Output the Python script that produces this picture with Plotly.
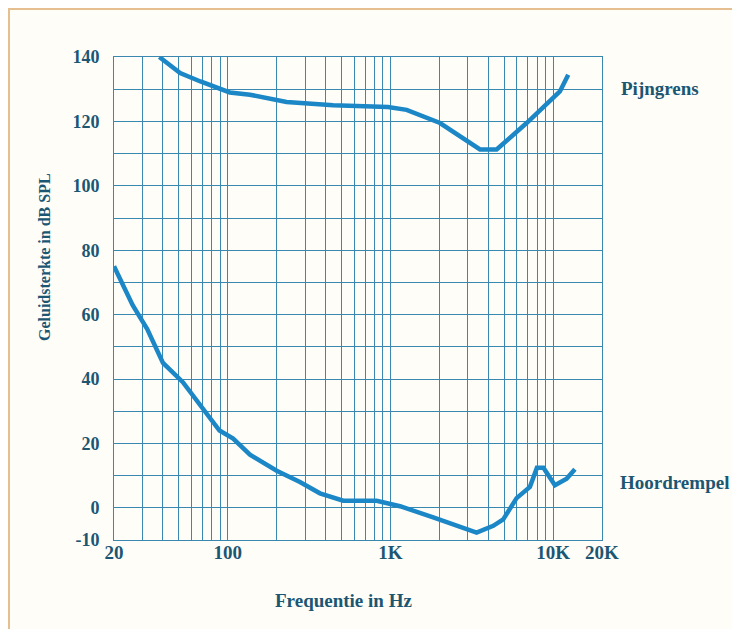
import plotly.graph_objects as go

# Data
pain_freq = [38, 51, 68, 103, 137, 230, 445, 966, 1259, 2018, 3556, 4500, 6880, 11020, 12400]
pain_db = [140, 135, 132.4, 129, 128.3, 126, 125, 124.5, 123.6, 119.5, 111.3, 111.3, 119.5, 129.3, 134.5]

hoor_freq = [20, 26, 32, 38, 40, 53, 74, 89, 108, 137, 200, 278, 369, 513, 824, 1146, 1834,
             3390, 4290, 4940, 5970, 7210, 7960, 8730, 10270, 12120, 13630]
hoor_db = [75, 63, 55.5, 47.5, 45, 39, 29, 24, 21.5, 16.5, 11.5, 8, 4.5, 2.2, 2.2, 0.5, -3,
           -7.7, -5.6, -3.6, 3, 6.5, 12.4, 12.4, 7, 9, 12]

x_grid = [20, 30, 40, 50, 60, 70, 80, 90, 100, 200, 300, 400, 500, 600, 700, 800, 900,
          1000, 2000, 3000, 4000, 5000, 6000, 7000, 8000, 9000, 10000, 20000]
x_labels = {20: "20", 100: "100", 1000: "1K", 10000: "10K", 20000: "20K"}
y_grid = list(range(-10, 141, 10))
y_labels = {-10: "-10", 0: "0", 20: "20", 40: "40", 60: "60", 80: "80", 100: "100", 120: "120", 140: "140"}

TEXT = "#1b5673"
GRID = "#3a88b0"
LINE = "#1c87c6"
FONT = "Liberation Serif"

def bold(s):
    return "<b>" + s + "</b>" if s else ""

fig = go.Figure()
fig.add_trace(go.Scatter(x=pain_freq, y=pain_db, mode="lines",
                         line=dict(color=LINE, width=4.5), name="Pijngrens", showlegend=False))
fig.add_trace(go.Scatter(x=hoor_freq, y=hoor_db, mode="lines",
                         line=dict(color=LINE, width=4.5), name="Hoordrempel", showlegend=False))

fig.update_xaxes(type="log", range=[1.30103, 4.30103],
                 tickvals=x_grid, ticktext=[bold(x_labels.get(v, "")) for v in x_grid],
                 showgrid=True, gridcolor=GRID, gridwidth=1,
                 showline=True, linecolor=GRID, linewidth=1, mirror=True,
                 zeroline=False, ticks="", ticklabelstandoff=-5,
                 tickfont=dict(family=FONT, size=19, color=TEXT))
fig.update_yaxes(range=[-10, 140],
                 tickvals=y_grid, ticktext=[bold(y_labels.get(v, "")) for v in y_grid],
                 showgrid=True, gridcolor=GRID, gridwidth=1,
                 showline=True, linecolor=GRID, linewidth=1, mirror=True,
                 zeroline=False, ticks="outside", ticklen=10, tickcolor="rgba(0,0,0,0)",
                 tickfont=dict(family=FONT, size=18, color=TEXT))

# page is offset 8px by the body margin
OFF = 8
W, H = 740 - OFF, 629 - OFF
L, R, T, B = 114 - OFF, 138, 57 - OFF, 89
pw, ph = W - L - R, H - T - B

def px(x):
    return (x - OFF - L) / pw

def py(y):
    return (H - B - (y - OFF)) / ph

fig.add_shape(type="rect", xref="paper", yref="paper",
              x0=px(9), x1=px(900), y0=py(9), y1=py(900),
              line=dict(color="#e6bf90", width=2), fillcolor="#fffdf7", layer="below")

anns = [
    dict(text="<b>Pijngrens</b>", x=px(619), y=py(88), xanchor="left", size=19),
    dict(text="<b>Hoordrempel</b>", x=px(618), y=py(482), xanchor="left", size=19),
    dict(text="<b>Frequentie in Hz</b>", x=px(343), y=py(600), xanchor="center", size=19),
]
for a in anns:
    fig.add_annotation(text=a["text"], xref="paper", yref="paper", x=a["x"], y=a["y"],
                       xanchor=a["xanchor"], yanchor="middle", showarrow=False,
                       font=dict(family=FONT, size=a["size"], color=TEXT))
fig.add_annotation(text="<b>Geluidsterkte in dB SPL</b>", xref="paper", yref="paper",
                   x=px(45), y=py(257), xanchor="center", yanchor="middle", textangle=-90,
                   showarrow=False, font=dict(family=FONT, size=16, color=TEXT))

fig.update_layout(width=W, height=H, margin=dict(l=L, r=R, t=T, b=B),
                  paper_bgcolor="white", plot_bgcolor="#fffdf7")

fig.write_html("out.html")
